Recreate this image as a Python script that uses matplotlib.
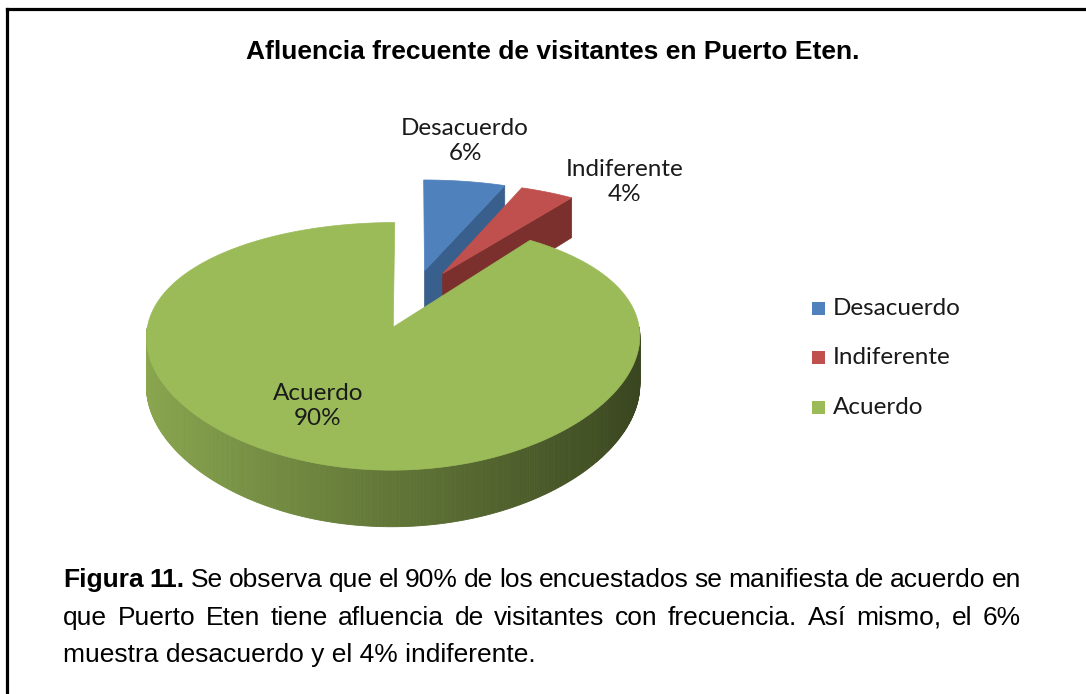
import numpy as np
import matplotlib
matplotlib.use('Agg')
import matplotlib.pyplot as plt
from matplotlib.patches import Polygon, Rectangle
from matplotlib.colors import to_rgb

# datos del grafico
categorias = ['Desacuerdo', 'Indiferente', 'Acuerdo']
porcentajes = [6, 4, 90]
color_sup = ['#4F81BD', '#C0504D', '#9BBB59']
color_corte = ['#395F8C', '#7B302E', '#5F7737']
titulo = 'Afluencia frecuente de visitantes en Puerto Eten.'

# texto de la figura (lineas justificadas)
pie_lineas = [
    [('Figura', True), ('11.', True), ('Se', False), ('observa', False), ('que', False), ('el', False),
     ('90%', False), ('de', False), ('los', False), ('encuestados', False), ('se', False),
     ('manifiesta', False), ('de', False), ('acuerdo', False), ('en', False)],
    [('que', False), ('Puerto', False), ('Eten', False), ('tiene', False), ('afluencia', False),
     ('de', False), ('visitantes', False), ('con', False), ('frecuencia.', False), ('Así', False),
     ('mismo,', False), ('el', False), ('6%', False)],
]
pie_ultima = 'muestra desacuerdo y el 4% indiferente.'

fuente_cal = ['Lato', 'DejaVu Sans']
fuente_narrow = ['Liberation Sans Narrow', 'Liberation Sans', 'DejaVu Sans']

# geometria del pastel 3D (pixeles)
CX, CY = 413, 298.3
A, B = 241, 112
KX, KY = 0.08, 0.15   # perspectiva
H = 46                # grosor
EXPL = 0.26           # separacion de porciones

fig = plt.figure(figsize=(10.86, 6.94), dpi=100)
ax = fig.add_axes([0, 0, 1, 1])
ax.set_xlim(0, 1086)
ax.set_ylim(694, 0)
ax.axis('off')


def proj(u, w, z=0.0):
    sx = 1.0 / (1.0 + KX * w)
    sy = 1.0 / (1.0 + KY * w)
    return CX + A * u * sx, CY - B * w * sy + z * H * sy


def mezcla(c1, c2, t):
    a = np.array(to_rgb(c1))
    b = np.array(to_rgb(c2))
    return tuple(a + (b - a) * t)


total = float(sum(porcentajes))
fin = np.cumsum(porcentajes) / total * 360
ini = np.concatenate([[0], fin[:-1]])
medio = (ini + fin) / 2
orden = np.argsort(-np.cos(np.radians(medio)))

for i in orden:
    a0, a1 = ini[i], fin[i]
    m = np.radians(medio[i])
    ou, ow = EXPL * np.sin(m), EXPL * np.cos(m)
    th = np.radians(np.linspace(a0, a1, max(int(a1 - a0) * 2, 8)))
    ru = ou + np.sin(th)
    rw = ow + np.cos(th)

    # caras de corte
    for alfa, visible in [(a1, np.sin(np.radians(a1)) > 1e-6), (a0, np.sin(np.radians(a0)) < -1e-6)]:
        if not visible:
            continue
        al = np.radians(alfa)
        pu, pw = ou + np.sin(al), ow + np.cos(al)
        pts = [proj(ou, ow), proj(pu, pw), proj(pu, pw, 1), proj(ou, ow, 1)]
        ax.add_patch(Polygon(pts, closed=True, fc=color_corte[i], ec=color_corte[i], lw=0.5))

    # lado exterior
    for j in range(len(th) - 1):
        tm = (th[j] + th[j + 1]) / 2
        if np.cos(tm) >= 0:
            continue
        t = (np.sin(tm) + 1) / 2
        c = mezcla('#8AA74F', '#39451F', t)
        pts = [proj(ru[j], rw[j]), proj(ru[j + 1], rw[j + 1]),
               proj(ru[j + 1], rw[j + 1], 1), proj(ru[j], rw[j], 1)]
        ax.add_patch(Polygon(pts, closed=True, fc=c, ec=c, lw=0.6))

    # cara superior
    pts = [proj(ou, ow)] + [proj(u, w) for u, w in zip(ru, rw)]
    ax.add_patch(Polygon(pts, closed=True, fc=color_sup[i], ec=color_sup[i], lw=0.5))

# etiquetas de datos
pos_etiq = [(465, 141), (625, 182), (318, 406)]
for i, (x, y) in enumerate(pos_etiq):
    ax.text(x, y, f'{categorias[i]}\n{porcentajes[i]}%', ha='center', va='center',
            fontsize=17.5, family=fuente_cal, color='#1a1a1a', linespacing=1.25)

# leyenda
for i, nombre in enumerate(categorias):
    yc = 308 + i * 49.5
    ax.add_patch(Rectangle((812, yc - 6.5), 13, 13, fc=color_sup[i], ec='none'))
    ax.text(833, yc, nombre, ha='left', va='center', fontsize=17.5, family=fuente_cal, color='#1a1a1a')

# titulo
ax.text(553, 52, titulo, ha='center', va='center', fontsize=19, fontweight='bold', family=fuente_narrow)

# marco
ax.plot([7, 1086], [9, 9], color='black', lw=2.3, solid_capstyle='projecting')
ax.plot([7, 7], [9, 694], color='black', lw=2.3, solid_capstyle='projecting')

# texto inferior justificado
ren = fig.canvas.get_renderer()
izq, der = 63, 1021
ys = [580, 618, 655]
for li, linea in enumerate(pie_lineas):
    objs = []
    for pal, neg in linea:
        t = ax.text(0, ys[li], pal, ha='left', va='center', fontsize=19,
                    fontweight='bold' if neg else 'normal', family=fuente_narrow)
        objs.append(t)
    anchos = [t.get_window_extent(ren).width for t in objs]
    hueco = (der - izq - sum(anchos)) / (len(objs) - 1)
    x = izq
    for t, w in zip(objs, anchos):
        t.set_x(x)
        x += w + hueco
ax.text(izq, ys[2], pie_ultima, ha='left', va='center', fontsize=19, family=fuente_narrow)

fig.savefig('out.png', dpi=100)
